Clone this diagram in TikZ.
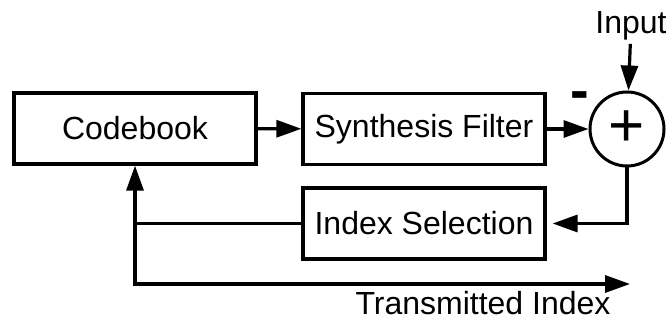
\documentclass[tikz,border=0pt]{standalone}
\usepackage{fontspec}
\setmainfont{Liberation Sans}
\usetikzlibrary{arrows.meta}

\begin{document}
\begin{tikzpicture}[x=1pt, y=-1pt, >={Triangle[length=25pt,width=17pt]}, line width=3.2pt,
  bloco/.style={draw, minimum width=242pt, minimum height=71pt, inner sep=0pt},
  rotulo/.style={font=\fontsize{32}{36}\selectfont, inner sep=2pt}]
  \useasboundingbox (0,0) rectangle (666,323);
  % blocos
  \node[bloco, rotulo] (cb) at (135,128.5) {Codebook};
  \node[bloco, rotulo] (sf) at (424,129) {Synthesis Filter};
  \node[bloco, rotulo] (is) at (424,223.5) {Index Selection};
  \node[draw, circle, minimum size=74pt, inner sep=0pt, line width=3pt,
    font=\fontsize{62}{62}\selectfont] (sum) at (627,129) {+};
  \node[font=\bfseries\fontsize{56}{56}\selectfont, inner sep=0pt] (minus) at (580,101) {-};
  % textos
  \node[rotulo] (inp) at (631,26) {Input};
  \node[rotulo] (ti) at (483,303) {Transmitted Index};
  \coordinate (canto) at (135,284);
  \coordinate (saida) at (630,284);
  % ligacoes
  \draw[->] (cb) -- (sf);
  \draw[->] (sf) -- (sum);
  \draw[->] (inp) -- (sum);
  \draw[->, shorten >=6pt] (sum) |- (is);
  \draw (is) -- (is -| canto);
  \draw[<->] (cb) -- (canto) -- (saida);
\end{tikzpicture}
\end{document}
